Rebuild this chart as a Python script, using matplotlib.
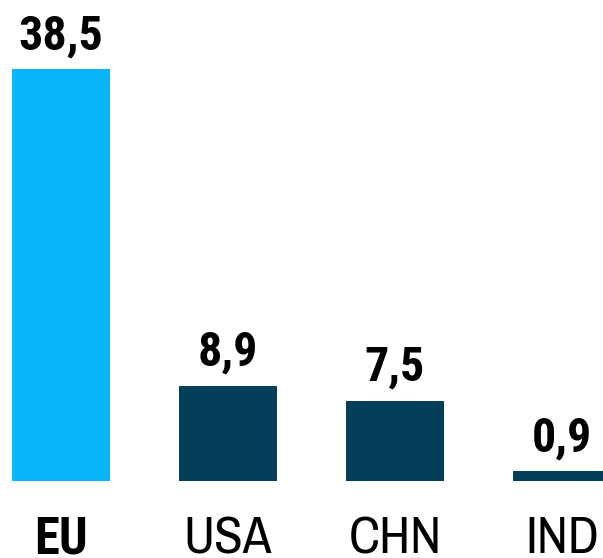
import matplotlib.pyplot as plt
from matplotlib import font_manager
from matplotlib.font_manager import FontProperties
from matplotlib.textpath import TextPath

categories = ['EU', 'USA', 'CHN', 'IND']
values = [38.5, 8.9, 7.5, 0.9]
value_labels = ['38,5', '8,9', '7,5', '0,9']
colors = ['#0BB5FB', '#053E58', '#053E58', '#053E58']

# narrow sans like Arial Narrow, first one that is installed
candidates = ['Liberation Sans Narrow', 'Archivo Narrow', 'Roboto Condensed',
              'PT Sans Narrow', 'Asap Condensed', 'Barlow Semi Condensed']
fonts = font_manager.fontManager.ttflist


def pick(bold):
    for name in candidates:
        for f in fonts:
            w = f.weight if isinstance(f.weight, int) else (700 if f.weight == 'bold' else 400)
            if f.name == name and ((w >= 700) if bold else (w < 600)):
                return name
    return 'DejaVu Sans'


def props(bold):
    name = pick(bold)
    stretch = 'condensed' if name == 'DejaVu Sans' else 'normal'
    return FontProperties(family=name, weight='bold' if bold else 'normal', stretch=stretch)


# font size (pt) giving a wanted ink height in pixels
def size_for(prop, sample, px):
    ext = TextPath((0, 0), sample, size=1, prop=prop).get_extents()
    return px / ext.height * 72 / 100


W, H = 603, 558
fig = plt.figure(figsize=(W / 100, H / 100), dpi=100)
ax = fig.add_axes([0, 77 / H, 1, 481 / H])

x = list(range(len(categories)))
ax.bar(x, values, width=0.587, color=colors)
ax.set_xlim(-0.365, 3.246)
ax.set_ylim(0, 45.0)
ax.axis('off')

pb = props(True)
pr = props(False)
val_size = size_for(pb, '380', 35)
cat_bold = size_for(pb, 'EHN', 36)
cat_reg = size_for(pr, 'EHN', 36)

for i, (v, lab) in enumerate(zip(values, value_labels)):
    ax.annotate(lab, (i, v), xytext=(0, 14.4), textcoords='offset points',
                ha='center', va='baseline', fontproperties=pb, fontsize=val_size)

# category names, baseline 5 px above the bottom edge
for i, cat in enumerate(categories):
    px = ax.transData.transform((i, 0))[0]
    fig.text(px / W, 5 / H, cat, ha='center', va='baseline',
             fontproperties=pb if i == 0 else pr,
             fontsize=cat_bold if i == 0 else cat_reg)

fig.savefig('out.png', dpi=100)
